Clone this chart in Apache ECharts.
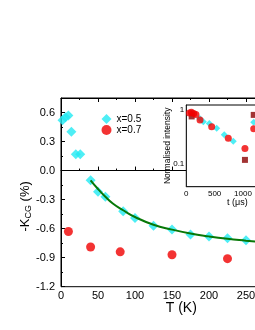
<!DOCTYPE html>
<html><head><meta charset="utf-8">
<script src="https://cdn.jsdelivr.net/npm/echarts@6/dist/echarts.min.js"></script>
<style>html,body{margin:0;padding:0;background:#fff}#c{width:255px;height:330px}</style>
</head><body><div id="c"></div>
<script>
// Main panel data: T (K) vs -K_CG (%)
const x05 = [[2,0.52],[6,0.55],[10,0.57],[14,0.40],[20,0.17],[26,0.17],[40,-0.10],[50,-0.22],[60,-0.27],[84,-0.42],[100,-0.49],[125,-0.57],[150,-0.61],[175,-0.66],[200,-0.68],[225,-0.70],[250,-0.72]];
const x07 = [[10,-0.63],[40,-0.79],[80,-0.84],[150,-0.87],[225,-0.91]];
const fitLine = [[40,-0.10],[50,-0.19],[60,-0.27],[70,-0.34],[84,-0.41],[100,-0.48],[125,-0.56],[150,-0.61],[175,-0.65],[200,-0.68],[225,-0.705],[250,-0.725],[270,-0.74]];
// Inset data: t (us) vs normalised intensity
const insetRed = [[55,0.86],[90,0.88],[130,0.84],[170,0.80],[242,0.64],[448,0.48],[741,0.295],[1035,0.19],[1190,0.44]];
const insetCyan = [[100,0.86],[236,0.68],[300,0.59],[406,0.55],[536,0.45],[670,0.34],[829,0.26],[1190,0.58]];
const insetDark = [[95,0.74],[1035,0.118],[1190,0.79]];
const yTicksMain = [-1.2,-0.9,-0.6,-0.3,0.0,0.3,0.6];

const font = 'Liberation Sans, Arial, sans-serif';
const chart = echarts.init(document.getElementById('c'));
const tickIn = {show:true, inside:true, length:4, lineStyle:{color:'#000',width:1}};
const minorIn = {show:true, splitNumber:2, length:2, lineStyle:{color:'#000',width:1}};
chart.setOption({
  animation:false,
  textStyle:{fontFamily:font},
  grid:[
    {left:61, top:98, width:240.5, height:188.7, outerBoundsMode:'none', containLabel:false, show:true, borderColor:'#000', borderWidth:1, backgroundColor:'transparent'},
    {left:186.3, top:105, width:102, height:81.7, outerBoundsMode:'none', containLabel:false, show:true, borderColor:'#000', borderWidth:1, backgroundColor:'#fff', z:5}
  ],
  legend:{
    left:101.5, top:114, orient:'vertical', itemWidth:10, itemHeight:10, itemGap:1, 
    textStyle:{fontSize:10, color:'#000', fontFamily:font}, padding:0,
    data:[{name:'x=0.5', icon:'diamond'},{name:'x=0.7', icon:'circle'}]
  },
  xAxis:[
    {gridIndex:0, type:'value', min:0, max:325, interval:50, position:'bottom',
     axisLine:{show:true,lineStyle:{color:'#000'}}, axisTick:tickIn, minorTick:minorIn, splitLine:{show:false},
     axisLabel:{color:'#000', fontSize:11, margin:4, showMaxLabel:false},
     name:'T (K)', nameLocation:'middle', nameGap:14, nameMoveOverlap:false, nameTextStyle:{fontSize:14, color:'#000'}},
    {gridIndex:0, type:'value', min:0, max:325, interval:50, position:'top',
     axisLine:{show:true,lineStyle:{color:'#000'}}, axisTick:tickIn, minorTick:minorIn, splitLine:{show:false}, axisLabel:{show:false}},
    {gridIndex:1, type:'value', min:0, max:1800, interval:500, position:'bottom',
     axisLine:{show:true,lineStyle:{color:'#000'}}, axisTick:{show:true,inside:true,length:3,lineStyle:{color:'#000'}},
     minorTick:{show:true,splitNumber:2,length:2,lineStyle:{color:'#000'}}, splitLine:{show:false},
     axisLabel:{color:'#000', fontSize:8, margin:3, showMaxLabel:false, formatter:v=>String(v)},
     name:'t (\u03bcs)', nameLocation:'middle', nameGap:11, nameMoveOverlap:false, nameTextStyle:{fontSize:9, color:'#000'}},
    {gridIndex:1, type:'value', min:0, max:1800, interval:500, position:'top',
     axisLine:{show:true,lineStyle:{color:'#000'}}, axisTick:{show:true,inside:true,length:3,lineStyle:{color:'#000'}},
     minorTick:{show:true,splitNumber:2,length:2,lineStyle:{color:'#000'}}, splitLine:{show:false}, axisLabel:{show:false}}
  ],
  yAxis:[
    {gridIndex:0, type:'value', min:-1.2, max:0.75, interval:0.3,
     axisLine:{show:true,lineStyle:{color:'#000'}}, axisTick:tickIn, minorTick:minorIn, splitLine:{show:false},
     axisLabel:{color:'#000', fontSize:11, margin:6, showMaxLabel:false, formatter:v=>yTicksMain.some(t=>Math.abs(t-v)<1e-6)?v.toFixed(1):''},
     name:'{a|-K}{s|CG}{a| (%)}', nameLocation:'middle', nameGap:28, nameRotate:90, nameMoveOverlap:false,
     nameTextStyle:{color:'#000', padding:[0,28,0,0], rich:{a:{fontSize:13,color:'#000',fontFamily:font}, s:{fontSize:9,color:'#000',fontFamily:font,padding:[6,0,0,0]}}}},
    {gridIndex:1, type:'log', min:0.038, max:1.2,
     axisLine:{show:true,lineStyle:{color:'#000'}}, axisTick:{show:true,inside:true,length:3,lineStyle:{color:'#000'}}, splitLine:{show:false},
     axisLabel:{color:'#000', fontSize:8, margin:2, showMinLabel:false, showMaxLabel:false},
     name:'Normalised intensity', nameLocation:'middle', nameGap:14, nameMoveOverlap:false, nameTextStyle:{fontSize:8.5, color:'#000'}}
  ],
  series:[
    {name:'fit', type:'line', xAxisIndex:0, yAxisIndex:0, data:fitLine, smooth:true, showSymbol:false, lineStyle:{color:'#077807', width:2}, z:3},
    {name:'x=0.5', type:'scatter', xAxisIndex:0, yAxisIndex:0, data:x05, symbol:'diamond', symbolSize:10, itemStyle:{color:'#22EAF2'}, z:2},
    {name:'x=0.7', type:'scatter', xAxisIndex:0, yAxisIndex:0, data:x07, symbol:'circle', symbolSize:9, itemStyle:{color:'#F00000'}, z:2},
    {name:'inCyan', type:'scatter', xAxisIndex:2, yAxisIndex:1, data:insetCyan, symbol:'diamond', symbolSize:7, itemStyle:{color:'#22EAF2'}, z:6},
    {name:'inDark', type:'scatter', xAxisIndex:2, yAxisIndex:1, data:insetDark, symbol:'rect', symbolSize:6, itemStyle:{color:'#8B0000'}, z:6},
    {name:'inRed', type:'scatter', xAxisIndex:2, yAxisIndex:1, data:insetRed, symbol:'circle', symbolSize:7, itemStyle:{color:'#F00000'}, z:7}
  ]
});
</script></body></html>
